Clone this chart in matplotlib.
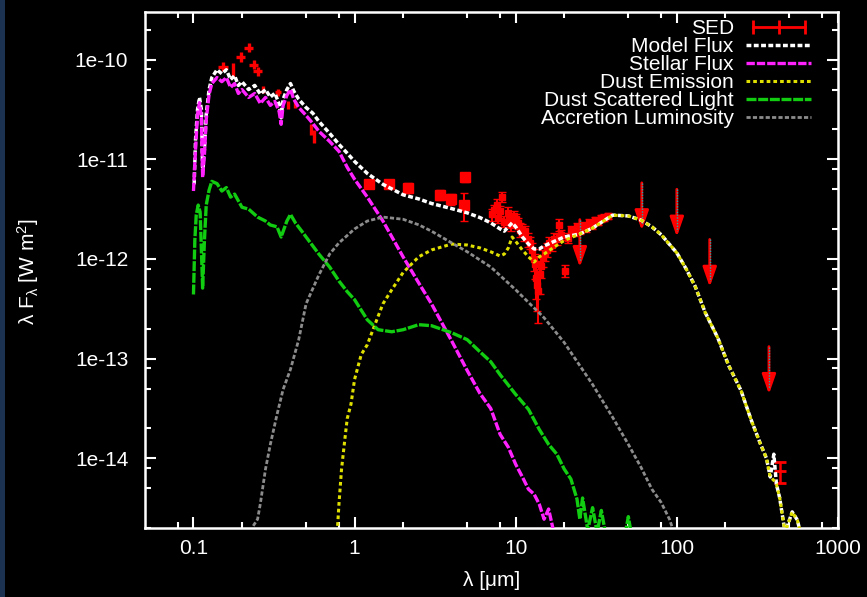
"""SED fit of a young star: observed photometry/spectrum against the model
components (stellar photosphere, scattered light, dust emission, accretion).
Gnuplot-style look: black background, white frame, inward ticks. Writes out.png.
"""
import matplotlib
matplotlib.use("Agg")
import matplotlib.pyplot as plt
import matplotlib.ticker as mticker
from matplotlib.lines import Line2D
from matplotlib.legend_handler import HandlerLine2D
from matplotlib.patches import Rectangle

plt.rcParams["font.family"] = ["Liberation Sans", "DejaVu Sans"]
plt.rcParams["mathtext.fontset"] = "custom"
plt.rcParams["mathtext.rm"] = "Liberation Sans"
plt.rcParams["mathtext.it"] = "Liberation Sans"

# ---- model curves (wavelength in um, lambda*F_lambda in W m^-2) ----
model_lam = [0.101, 0.103, 0.106, 0.109, 0.112, 0.114, 0.117, 0.12, 0.125, 0.13,
             0.14, 0.15, 0.16, 0.17, 0.18, 0.19, 0.2, 0.22, 0.24, 0.26,
             0.28, 0.3, 0.32, 0.34, 0.35, 0.36, 0.38, 0.4, 0.42, 0.45,
             0.5, 0.55, 0.6, 0.7, 0.8, 0.9, 1.0, 1.2, 1.5, 2.0,
             2.5, 3, 4, 5, 6, 7, 8, 8.5, 9, 9.5,
             10, 11, 12, 13, 14, 15, 17, 20, 25, 30,
             35, 40, 50, 60, 70, 80, 100, 115, 130, 150,
             180, 210, 250, 290, 330, 360, 380, 400, 415, 435,
             450, 470, 520, 560, 600]
model_flux = [5.6e-12, 1.58e-11, 3.16e-11, 4.17e-11, 3.16e-11, 7.9e-12, 1.26e-11, 2.82e-11, 5.0e-11, 6.6e-11,
              7.9e-11, 7.2e-11, 7.9e-11, 6.3e-11, 6.9e-11, 5.5e-11, 6.0e-11, 5.0e-11, 5.5e-11, 4.5e-11,
              5.0e-11, 4.2e-11, 4.6e-11, 3.6e-11, 2.6e-11, 4.0e-11, 5.0e-11, 5.75e-11, 4.8e-11, 4.0e-11,
              3.3e-11, 2.9e-11, 2.4e-11, 1.82e-11, 1.41e-11, 1.15e-11, 9.5e-12, 7.2e-12, 5.6e-12, 4.4e-12,
              4.0e-12, 3.6e-12, 3.2e-12, 2.9e-12, 2.6e-12, 2.3e-12, 2.0e-12, 1.9e-12, 2.1e-12, 2.3e-12,
              2.1e-12, 1.66e-12, 1.41e-12, 1.26e-12, 1.26e-12, 1.35e-12, 1.48e-12, 1.66e-12, 1.78e-12, 2.04e-12,
              2.4e-12, 2.75e-12, 2.7e-12, 2.45e-12, 2.1e-12, 1.75e-12, 1.15e-12, 7.8e-13, 5.3e-13, 2.9e-13,
              1.6e-13, 8.5e-14, 4.8e-14, 2.4e-14, 1.4e-14, 1.0e-14, 6.5e-15, 1.1e-14, 5.5e-15, 4.0e-15,
              2.8e-15, 1.8e-15, 2.9e-15, 2.4e-15, 1.5e-15]

stellar_lam = [0.1, 0.103, 0.106, 0.109, 0.112, 0.114, 0.117, 0.12, 0.125, 0.13,
               0.14, 0.15, 0.16, 0.17, 0.18, 0.19, 0.2, 0.22, 0.24, 0.26,
               0.28, 0.3, 0.32, 0.34, 0.35, 0.36, 0.38, 0.4, 0.42, 0.45,
               0.5, 0.55, 0.6, 0.7, 0.8, 0.9, 1.0, 1.2, 1.5, 2,
               2.5, 3, 4, 5, 6, 7, 8, 9, 10, 11,
               12, 13, 14, 15, 16, 17, 18]
stellar_flux = [4.8e-12, 1.26e-11, 2.82e-11, 3.7e-11, 2.63e-11, 6.6e-12, 1.12e-11, 2.5e-11, 4.47e-11, 5.75e-11,
                6.6e-11, 6.0e-11, 6.6e-11, 5.25e-11, 5.75e-11, 4.57e-11, 5.0e-11, 4.17e-11, 4.57e-11, 3.63e-11,
                4.17e-11, 3.47e-11, 3.8e-11, 3.02e-11, 2.24e-11, 3.47e-11, 4.37e-11, 5.0e-11, 3.98e-11, 3.31e-11,
                2.75e-11, 2.29e-11, 1.91e-11, 1.51e-11, 1.2e-11, 8.3e-12, 6.3e-12, 4.17e-12, 2.4e-12, 1.05e-12,
                5.75e-13, 3.55e-13, 1.51e-13, 7.6e-14, 4.47e-14, 3.16e-14, 1.74e-14, 1.29e-14, 8.7e-15, 6.5e-15,
                4.9e-15, 4.37e-15, 3.47e-15, 2.45e-15, 3.1e-15, 2.0e-15, 1.7e-15]

dust_lam = [0.78, 0.8, 0.83, 0.87, 0.9, 0.95, 1.0, 1.1, 1.2, 1.3,
            1.5, 1.7, 2, 2.5, 3, 4, 5, 6, 7, 8,
            8.5, 9, 9.5, 10, 11, 12, 13, 14, 15, 17,
            20, 25, 30, 35, 40, 50, 60, 70, 80, 100,
            115, 130, 150, 180, 210, 250, 290, 330, 360, 380,
            400, 415, 435, 450, 470, 520, 560, 600]
dust_flux = [1.8e-15, 3.5e-15, 7.8e-15, 1.55e-14, 2.5e-14, 3.5e-14, 6.2e-14, 1.1e-13, 1.38e-13, 1.95e-13,
             3.55e-13, 4.9e-13, 7.3e-13, 1.05e-12, 1.23e-12, 1.41e-12, 1.38e-12, 1.29e-12, 1.18e-12, 1.07e-12,
             1.12e-12, 1.29e-12, 1.66e-12, 1.5e-12, 1.23e-12, 1.05e-12, 9.3e-13, 1.05e-12, 1.12e-12, 1.29e-12,
             1.53e-12, 1.78e-12, 2.04e-12, 2.4e-12, 2.75e-12, 2.7e-12, 2.45e-12, 2.1e-12, 1.75e-12, 1.15e-12,
             7.8e-13, 5.3e-13, 2.9e-13, 1.6e-13, 8.5e-14, 4.8e-14, 2.4e-14, 1.4e-14, 1.0e-14, 6.5e-15,
             6.0e-15, 5.5e-15, 4.0e-15, 2.8e-15, 1.8e-15, 2.9e-15, 2.4e-15, 1.5e-15]

scat_lam = [0.1, 0.102, 0.104, 0.107, 0.11, 0.112, 0.114, 0.117, 0.12, 0.125,
            0.13, 0.14, 0.15, 0.16, 0.17, 0.18, 0.2, 0.22, 0.25, 0.28,
            0.3, 0.33, 0.35, 0.38, 0.4, 0.43, 0.47, 0.5, 0.6, 0.7,
            0.8, 0.9, 1, 1.2, 1.4, 1.7, 2, 2.5, 3, 4,
            5, 6, 7, 8, 10, 12, 14, 16, 18, 20,
            22, 24, 25, 26, 28, 30, 32, 34, 36, 48,
            50, 52]
scat_flux = [4.4e-13, 1.55e-12, 2.75e-12, 3.47e-12, 2.95e-12, 1.23e-12, 5.1e-13, 1.55e-12, 3.47e-12, 4.9e-12,
             6.0e-12, 5.7e-12, 4.8e-12, 5.2e-12, 4.17e-12, 4.47e-12, 3.3e-12, 3.16e-12, 2.63e-12, 2.4e-12,
             2.19e-12, 2.1e-12, 1.66e-12, 2.4e-12, 2.8e-12, 2.29e-12, 1.9e-12, 1.66e-12, 1.12e-12, 8.3e-13,
             6.0e-13, 4.7e-13, 3.9e-13, 2.45e-13, 1.95e-13, 1.86e-13, 1.95e-13, 2.19e-13, 2.14e-13, 1.82e-13,
             1.55e-13, 1.17e-13, 9.3e-14, 6.9e-14, 4.37e-14, 3.1e-14, 1.95e-14, 1.38e-14, 1.1e-14, 7.8e-15,
             6.2e-15, 3.9e-15, 2.45e-15, 4.0e-15, 1.9e-15, 3.2e-15, 1.8e-15, 3.0e-15, 1.8e-15, 1.8e-15,
             2.6e-15, 1.8e-15]

accr_lam = [0.235, 0.25, 0.26, 0.28, 0.3, 0.33, 0.36, 0.4, 0.45, 0.5,
            0.6, 0.7, 0.8, 1, 1.2, 1.5, 2, 2.5, 3, 4,
            5, 7, 10, 15, 20, 30, 40, 50, 60, 70,
            80, 90, 95]
accr_flux = [2.1e-15, 2.45e-15, 3.5e-15, 7.8e-15, 1.38e-14, 2.75e-14, 4.9e-14, 7.8e-14, 1.55e-13, 3.55e-13,
             6.9e-13, 1.12e-12, 1.45e-12, 2.0e-12, 2.4e-12, 2.63e-12, 2.5e-12, 2.2e-12, 1.9e-12, 1.45e-12,
             1.18e-12, 8.3e-13, 4.9e-13, 2.57e-13, 1.45e-13, 5.5e-14, 2.57e-14, 1.38e-14, 8.1e-15, 4.9e-15,
             3.6e-15, 2.45e-15, 1.9e-15]

# ---- observed SED ----
uv_lam = [0.153, 0.177, 0.196, 0.220, 0.236, 0.250, 0.272, 0.333, 0.384, 0.424, 0.540, 0.556]
uv_flux = [8.5e-11, 7.9e-11, 1.07e-10, 1.32e-10, 8.9e-11, 7.6e-11, 5.0e-11, 4.7e-11, 3.5e-11, 3.55e-11, 2.0e-11, 1.7e-11]
uv_xerr = [0.010, 0.0, 0.012, 0.014, 0.015, 0.016, 0.0, 0.014, 0.0, 0.0, 0.0, 0.0]
uv_yerr = [9e-12, 1.3e-11, 1.2e-11, 1.4e-11, 9e-12, 8e-12, 4e-12, 4e-12, 3e-12, 3e-12, 2.5e-12, 2.5e-12]

nir_lam = [1.22, 1.63, 2.16, 3.37, 3.95, 4.82, 4.75]
nir_flux = [5.6e-12, 5.6e-12, 5.2e-12, 4.4e-12, 4.0e-12, 6.6e-12, 3.5e-12]
nir_err = [4e-13, 4e-13, 6e-13, 5e-13, 5e-13, 7e-13, 1.1e-12]

irs_lam = [7.1, 7.3, 7.6, 7.8, 8.0, 8.2, 8.5, 8.9, 9.1, 9.4,
           9.7, 10.0, 10.3, 10.6, 10.9, 11.2, 11.5, 11.9, 12.2, 12.6,
           12.9, 13.1, 13.3, 13.5, 13.8, 14.1, 14.4, 14.7, 15.1, 15.6,
           16.1, 16.7, 17.3, 18.0, 18.5, 19.0, 20.1, 21.0, 22.0, 22.9,
           24.0, 25.0, 26.0, 27.2, 28.5, 29.7, 31.0, 32.3, 33.7, 35.2,
           37.3]
irs_flux = [2.8e-12, 3.1e-12, 3.5e-12, 2.6e-12, 3.0e-12, 4.2e-12, 2.37e-12, 2.9e-12, 2.5e-12, 2.2e-12,
            2.7e-12, 2.5e-12, 2.3e-12, 1.97e-12, 2.0e-12, 1.76e-12, 1.9e-12, 1.57e-12, 1.45e-12, 1.24e-12,
            1.0e-12, 8.8e-13, 6.5e-13, 5.5e-13, 4.8e-13, 7.0e-13, 8.5e-13, 1.03e-12, 1.15e-12, 1.24e-12,
            1.45e-12, 1.39e-12, 1.6e-12, 1.57e-12, 2.2e-12, 1.75e-12, 7.65e-13, 1.64e-12, 1.95e-12, 1.88e-12,
            2.1e-12, 1.97e-12, 2.15e-12, 2.07e-12, 2.3e-12, 2.2e-12, 2.45e-12, 2.37e-12, 2.55e-12, 2.6e-12,
            2.7e-12]
irs_err = [4e-13, 4e-13, 5e-13, 3e-13, 4e-13, 5e-13, 3e-13, 4e-13, 3e-13, 3e-13,
           3e-13, 3e-13, 3e-13, 3e-13, 2.5e-13, 2.5e-13, 2.5e-13, 2.5e-13, 2e-13, 2e-13,
           2.5e-13, 2.5e-13, 2.5e-13, 2.5e-13, 2.5e-13, 2.5e-13, 2e-13, 2e-13, 2e-13, 2e-13,
           2e-13, 2e-13, 2e-13, 2e-13, 3e-13, 2e-13, 1e-13, 2e-13, 2e-13, 2e-13,
           2e-13, 2e-13, 2e-13, 2e-13, 2e-13, 2e-13, 2e-13, 2e-13, 2e-13, 2e-13,
           2e-13]

mm_lam = [437]
mm_flux = [7.4e-15]
mm_err = [1.7e-15]

ul_lam = [25, 60.6, 100, 160, 373]          # upper limits
ul_flux = [2.48e-12, 5.8e-12, 5.0e-12, 1.57e-12, 1.32e-13]

x_major = [0.1, 1, 10, 100, 1000]
x_minor = [0.08, 0.2, 0.5, 0.8, 2, 5, 8, 20, 50, 80, 200, 500, 800]
y_major = [1e-14, 1e-13, 1e-12, 1e-11, 1e-10]
y_minor = [m * 10.0 ** e for e in range(-15, -9) for m in (2, 5, 8)]
y_ticklabels = ["1e-14", "1e-13", "1e-12", "1e-11", "1e-10"]

RED = "#ff0000"
TEAL = "#22aaaa"

fig = plt.figure(figsize=(8.67, 5.97), dpi=100, facecolor="black")
fig.patches.append(Rectangle((0, 0), 5 / 867, 1, transform=fig.transFigure,
                             facecolor="#1b3350", edgecolor="none"))
ax = fig.add_axes([0.1672, 0.1156, 0.7993, 0.8643], facecolor="black")
ax.set_xscale("log")
ax.set_yscale("log")

# observed points
ax.errorbar(uv_lam, uv_flux, xerr=uv_xerr, yerr=uv_yerr, fmt="none",
            ecolor=RED, elinewidth=2.4, capsize=0, zorder=2)
ax.errorbar(nir_lam, nir_flux, yerr=nir_err, fmt="s", color=RED, ms=7,
            elinewidth=1.5, capsize=3, zorder=2)
ax.errorbar(irs_lam, irs_flux, yerr=irs_err, fmt="s", color=RED, ms=5,
            elinewidth=1.5, capsize=3, zorder=2)
ax.errorbar(mm_lam, mm_flux, yerr=mm_err, fmt="_", color=RED, ms=8, mew=2,
            elinewidth=1.8, capsize=4, capthick=1.8, zorder=2)
for lam, f in zip(ul_lam, ul_flux):
    ax.annotate("", xy=(lam, f / 3), xytext=(lam, f),
                arrowprops=dict(arrowstyle="-|>,head_length=1.0,head_width=0.35",
                                color=RED, lw=2, mutation_scale=12, shrinkA=0, shrinkB=0),
                zorder=2)
    ax.plot([lam, lam], [f, f / 2.6], color=TEAL, lw=1, ls=(0, (1, 1)), zorder=3)

# model components
ln_model, = ax.plot(model_lam, model_flux, color="white", lw=2.5, dashes=(1.4, 0.7),
                    label="Model Flux", zorder=4)
ln_star, = ax.plot(stellar_lam, stellar_flux, color="#ff22ff", lw=2.4, dashes=(2.5, 0.6),
                   label="Stellar Flux", zorder=5)
ln_dust, = ax.plot(dust_lam, dust_flux, color="#e0e000", lw=2.2, dashes=(1.2, 1.0),
                   label="Dust Emission", zorder=5)
ln_scat, = ax.plot(scat_lam, scat_flux, color="#11cc11", lw=2.4, dashes=(3, 0.5),
                   label="Dust Scattered Light", zorder=5)
ln_accr, = ax.plot(accr_lam, accr_flux, color="#8c8c8c", lw=2.0, dashes=(1.5, 0.8),
                   label="Accretion Luminosity", zorder=5)

ax.set_xlim(0.05, 1000)
ax.set_ylim(2e-15, 3e-10)

ax.xaxis.set_major_locator(mticker.FixedLocator(x_major))
ax.xaxis.set_minor_locator(mticker.FixedLocator(x_minor))
ax.yaxis.set_major_locator(mticker.FixedLocator(y_major))
ax.yaxis.set_minor_locator(mticker.FixedLocator(y_minor))
ax.xaxis.set_major_formatter(mticker.FuncFormatter(lambda v, _: f"{v:g}"))
ax.yaxis.set_major_formatter(mticker.FixedFormatter(y_ticklabels))
ax.xaxis.set_minor_formatter(mticker.NullFormatter())
ax.yaxis.set_minor_formatter(mticker.NullFormatter())

ax.tick_params(which="both", direction="in", top=True, right=True,
               colors="white", width=1.5, labelsize=15)
ax.tick_params(which="major", length=8)
ax.tick_params(which="minor", length=4)
ax.tick_params(axis="x", pad=8)
ax.tick_params(axis="y", pad=12)
for sp in ax.spines.values():
    sp.set_color("white")
    sp.set_linewidth(1.8)

ax.set_xlabel("λ [μm]", color="white", fontsize=15)
ax.xaxis.set_label_coords(0.5, -0.083)
ax.set_ylabel(r"λ F$_\lambda$ [W m$^2$]", color="white", fontsize=15)
ax.yaxis.set_label_coords(-0.150, 0.496)

sed_handle = Line2D([], [], color=RED, lw=2, marker="|", ms=10, mew=2)
handles = [sed_handle, ln_model, ln_star, ln_dust, ln_scat, ln_accr]
labels = ["SED", "Model Flux", "Stellar Flux", "Dust Emission",
          "Dust Scattered Light", "Accretion Luminosity"]
leg = ax.legend(handles, labels, loc="upper right", bbox_to_anchor=(0.961, 0.986),
                frameon=False, fontsize=15, markerfirst=False, handlelength=3.1,
                handletextpad=0.6, labelspacing=-0.05, borderpad=0, borderaxespad=0,
                handler_map={sed_handle: HandlerLine2D(numpoints=3)})
for t in leg.get_texts():
    t.set_color("white")

fig.savefig("out.png", dpi=100, facecolor="black")
